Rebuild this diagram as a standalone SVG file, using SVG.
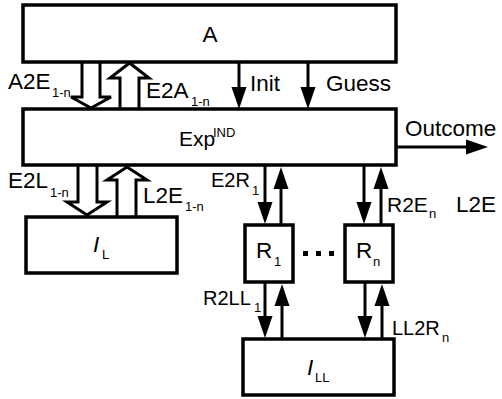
<svg xmlns="http://www.w3.org/2000/svg" width="502" height="399" viewBox="0 0 502 399">
<style>
.box{fill:#fff;stroke:#000;stroke-width:3.5}
.hol{fill:#fff;stroke:#000;stroke-width:3;stroke-linejoin:miter}
.ln{stroke:#000;stroke-width:3;fill:none}
text{font-family:"Liberation Sans",Arial,sans-serif;fill:#000}
.t{font-size:21px}
.b{font-size:22.5px}
.m{font-size:20px}
.s{font-size:13px}
.it{font-style:italic}
</style>
<defs>
<marker id="ah" markerUnits="userSpaceOnUse" markerWidth="22" markerHeight="16" refX="2" refY="8" orient="auto">
<path d="M0,0.5 L22,8 L0,15.5 z" fill="#000"/>
</marker>
</defs>
<g id="connectors">
<path class="hol" d="M82,62 V97 H71 L91,108 L111,97 H100 V62"/>
<path class="hol" d="M120,109 V78 H110 L129.5,63 L149,78 H139 V109"/>
<path class="hol" d="M78,165 V202 H67 L87,215 L107,202 H97 V165"/>
<path class="hol" d="M117,217 V180 H107 L127,167 L147,180 H136 V217"/>
<line class="ln" x1="239" y1="62" x2="239" y2="89" marker-end="url(#ah)"/>
<line class="ln" x1="308" y1="62" x2="308" y2="89" marker-end="url(#ah)"/>
<line class="ln" x1="396" y1="147" x2="468" y2="147" marker-end="url(#ah)"/>
<line class="ln" x1="265" y1="165" x2="265" y2="204" marker-end="url(#ah)"/>
<line class="ln" x1="281" y1="225" x2="281" y2="187" marker-end="url(#ah)"/>
<line class="ln" x1="364" y1="165" x2="364" y2="204" marker-end="url(#ah)"/>
<line class="ln" x1="381" y1="225" x2="381" y2="187" marker-end="url(#ah)"/>
<line class="ln" x1="265" y1="282" x2="265" y2="318" marker-end="url(#ah)"/>
<line class="ln" x1="282" y1="339" x2="282" y2="304" marker-end="url(#ah)"/>
<line class="ln" x1="365" y1="282" x2="365" y2="318" marker-end="url(#ah)"/>
<line class="ln" x1="382" y1="339" x2="382" y2="304" marker-end="url(#ah)"/>
</g>
<g id="labels">
<text class="b" x="8" y="89">A2E</text><text class="s" x="52" y="97">1-n</text>
<text class="b" x="146" y="98">E2A</text><text class="s" x="191" y="106">1-n</text>
<text class="b" x="250" y="91">Init</text>
<text class="b" x="326" y="91">Guess</text>
<text class="b" x="405" y="136">Outcome</text>
<text class="b" x="8" y="188">E2L</text><text class="s" x="50" y="197">1-n</text>
<text class="b" x="143" y="203">L2E</text><text class="s" x="185" y="211">1-n</text>
<text class="m" x="211" y="187">E2R</text><text class="s" x="252" y="195">1</text>
<text class="t" x="387" y="212">R2E</text><text class="s" x="429" y="218">n</text>
<text class="b" x="456" y="212">L2E</text>
<text class="m" x="203" y="305">R2LL</text><text class="s" x="254" y="312">1</text>
<text class="m" x="392" y="335">LL2R</text><text class="s" x="442" y="342">n</text>
</g>
<g id="A">
<rect class="box" x="23" y="5" width="373" height="57"/>
<text class="b" x="210" y="42" text-anchor="middle">A</text>
</g>
<g id="Exp">
<rect class="box" x="23" y="109" width="373" height="56"/>
<text class="t" x="179" y="146">Exp</text><text class="s" x="213" y="137">IND</text>
</g>
<g id="IL">
<rect class="box" x="26" y="217" width="151" height="56"/>
<text class="b it" x="93" y="252">I</text><text class="s" x="102" y="259">L</text>
</g>
<g id="R1">
<rect class="box" x="245" y="225" width="48" height="57"/>
<text class="b" x="256" y="258">R</text><text class="s" x="274" y="266">1</text>
</g>
<g id="dots">
<rect x="303" y="251" width="5" height="5" fill="#000"/>
<rect x="316" y="251" width="5" height="5" fill="#000"/>
<rect x="329" y="251" width="5" height="5" fill="#000"/>
</g>
<g id="Rn">
<rect class="box" x="345" y="225" width="48" height="57"/>
<text class="b" x="356" y="258">R</text><text class="s" x="373" y="266">n</text>
</g>
<g id="ILL">
<rect class="box" x="243" y="339" width="151" height="56"/>
<text class="b it" x="307" y="375">I</text><text class="s" x="315" y="382">LL</text>
</g>
</svg>
